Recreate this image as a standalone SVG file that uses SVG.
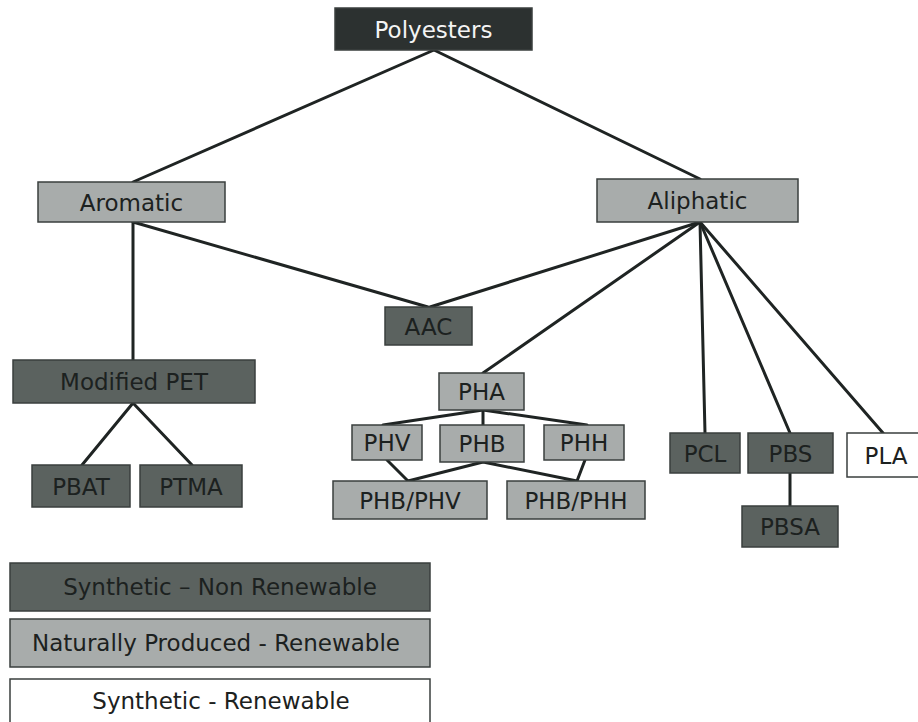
<svg xmlns="http://www.w3.org/2000/svg" width="918" height="722" viewBox="0 0 918 722">
<style>
.box{stroke:#3a3f3e;stroke-width:1.5}
.dark{fill:#5b625f}
.light{fill:#a8acab}
.white{fill:#ffffff}
.top{fill:#2c3130}
.t{font-family:"DejaVu Sans","Verdana",sans-serif;font-size:23px;fill:#1c2120;text-anchor:middle;dominant-baseline:central}
.tw{fill:#f4f4f4}
.c{stroke:#1f2423;stroke-width:3;fill:none;stroke-linecap:round}
</style>
<rect width="918" height="722" fill="#ffffff"/>
<g id="connectors">
<line class="c" x1="434" y1="50" x2="133" y2="182"/>
<line class="c" x1="434" y1="50" x2="700" y2="179"/>
<line class="c" x1="133" y1="222" x2="133" y2="360"/>
<line class="c" x1="133" y1="222" x2="428" y2="307"/>
<line class="c" x1="700" y1="222" x2="430" y2="307"/>
<line class="c" x1="700" y1="222" x2="483" y2="373"/>
<line class="c" x1="700" y1="222" x2="705" y2="433"/>
<line class="c" x1="700" y1="222" x2="790" y2="433"/>
<line class="c" x1="700" y1="222" x2="883" y2="433"/>
<line class="c" x1="133" y1="403" x2="82" y2="465"/>
<line class="c" x1="133" y1="403" x2="192" y2="465"/>
<line class="c" x1="483" y1="410" x2="383" y2="425"/>
<line class="c" x1="483" y1="410" x2="483" y2="425"/>
<line class="c" x1="483" y1="410" x2="587" y2="425"/>
<line class="c" x1="387" y1="460" x2="408" y2="481"/>
<line class="c" x1="483" y1="462" x2="408" y2="481"/>
<line class="c" x1="483" y1="462" x2="577" y2="481"/>
<line class="c" x1="585" y1="460" x2="577" y2="481"/>
<line class="c" x1="790" y1="473" x2="790" y2="506"/>
</g>
<g id="polyesters"><rect class="box top" x="335" y="8" width="197" height="42"/><text class="t tw" x="433.5" y="30">Polyesters</text></g>
<g id="aromatic"><rect class="box light" x="38" y="182" width="187" height="40"/><text class="t" x="131.5" y="203">Aromatic</text></g>
<g id="aliphatic"><rect class="box light" x="597" y="179" width="201" height="43"/><text class="t" x="697.5" y="201">Aliphatic</text></g>
<g id="aac"><rect class="box dark" x="385" y="307" width="87" height="38"/><text class="t" x="428.5" y="327">AAC</text></g>
<g id="modified-pet"><rect class="box dark" x="13" y="360" width="242" height="43"/><text class="t" x="134" y="382">Modified PET</text></g>
<g id="pbat"><rect class="box dark" x="32" y="465" width="98" height="42"/><text class="t" x="81" y="487">PBAT</text></g>
<g id="ptma"><rect class="box dark" x="140" y="465" width="102" height="42"/><text class="t" x="191" y="487">PTMA</text></g>
<g id="pha"><rect class="box light" x="439" y="373" width="85" height="37"/><text class="t" x="481.5" y="392">PHA</text></g>
<g id="phv"><rect class="box light" x="352" y="425" width="70" height="35"/><text class="t" x="387" y="443">PHV</text></g>
<g id="phb"><rect class="box light" x="440" y="425" width="84" height="37"/><text class="t" x="482" y="444">PHB</text></g>
<g id="phh"><rect class="box light" x="544" y="425" width="80" height="35"/><text class="t" x="584" y="443">PHH</text></g>
<g id="phb-phv"><rect class="box light" x="333" y="481" width="154" height="38"/><text class="t" x="410" y="501">PHB/PHV</text></g>
<g id="phb-phh"><rect class="box light" x="507" y="481" width="138" height="38"/><text class="t" x="576" y="501">PHB/PHH</text></g>
<g id="pcl"><rect class="box dark" x="670" y="433" width="70" height="40"/><text class="t" x="705" y="454">PCL</text></g>
<g id="pbs"><rect class="box dark" x="748" y="433" width="85" height="40"/><text class="t" x="790.5" y="454">PBS</text></g>
<g id="pla"><rect class="box white" x="847" y="433" width="80" height="44"/><text class="t" x="886" y="456">PLA</text></g>
<g id="pbsa"><rect class="box dark" x="742" y="506" width="96" height="41"/><text class="t" x="790" y="527">PBSA</text></g>
<g id="legend-synthetic-non-renewable"><rect class="box dark" x="10" y="563" width="420" height="48"/><text class="t" x="220" y="587">Synthetic – Non Renewable</text></g>
<g id="legend-naturally-produced"><rect class="box light" x="10" y="619" width="420" height="48"/><text class="t" x="216" y="643">Naturally Produced - Renewable</text></g>
<g id="legend-synthetic-renewable"><rect class="box white" x="10" y="679" width="420" height="50"/><text class="t" x="221" y="701">Synthetic - Renewable</text></g>
</svg>
